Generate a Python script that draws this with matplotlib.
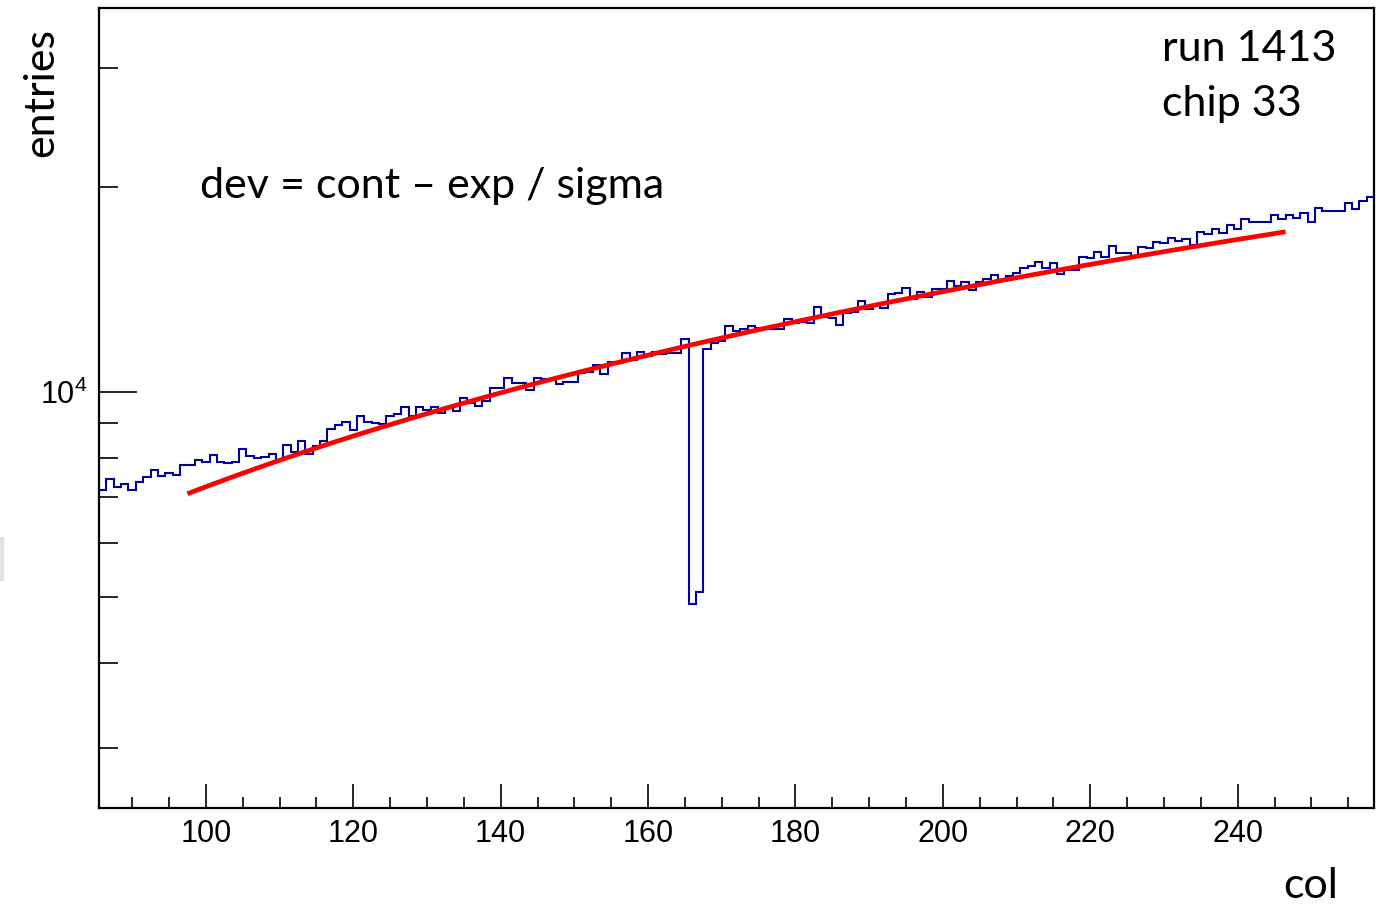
import numpy as np
import matplotlib
matplotlib.use("Agg")
import matplotlib.pyplot as plt

# histogram of hits per column (bin centres 86..258)
first_col = 86
entries = [
    7176, 7441, 7257, 7323, 7176, 7381, 7507, 7679, 7525, 7593,
    7550, 7802, 7802, 7943, 7898, 8079, 7898, 7855, 7898, 8245,
    8052, 7989, 8016, 8106, 7943, 8357, 8170, 8471, 8106, 8329,
    8480, 8813, 8943, 9043, 8793, 9219, 9043, 9013, 8973, 9229,
    9282, 9514, 9210, 9495, 9409, 9514, 9323, 9514, 9377, 9789,
    9644, 9537, 9710, 10126, 10126, 10475, 10299, 10320, 10068, 10475,
    10439, 10415, 10264, 10355, 10355, 10675, 10712, 10957, 10628, 11080,
    11021, 11400, 11144, 11462, 11296, 11462, 11373, 11423, 11423, 11954,
    4873, 5075, 11548, 11805, 11897, 12483, 12307, 12365, 12504, 12407,
    12407, 12365, 12365, 12804, 12619, 12662, 12645, 13349, 12878, 12835,
    12547, 13054, 13125, 13623, 13232, 13426, 13277, 13921, 13969, 14207,
    13688, 14016, 13808, 14159, 14159, 14563, 14318, 14528, 14126, 14528,
    14662, 14862, 14587, 14796, 14963, 15218, 15332, 15515, 15202, 15462,
    14912, 15116, 15116, 15795, 15742, 16065, 15795, 16412, 16011, 15995,
    15769, 16356, 16284, 16602, 16545, 16857, 16692, 16771, 16467, 17192,
    17087, 17349, 17133, 17604, 17337, 17953, 17753, 17753, 17753, 18179,
    17953, 18210, 18008, 18353, 17783, 18648, 18440, 18440, 18440, 18945,
    18572, 19093, 19354,
]

# linear fit (pol1) drawn in red, and its range
fit_p0 = 466.0
fit_p1 = 67.9
fit_range = (97.5, 246.5)

x_ticks = [100, 120, 140, 160, 180, 200, 220, 240]
y_minor = [3000, 4000, 5000, 6000, 7000, 8000, 9000, 20000, 30000]

W, H = 1387, 905
fig = plt.figure(figsize=(W / 100, H / 100), dpi=100)
ax = fig.add_axes([99 / W, 1 - 808 / H, (1374 - 99) / W, (808 - 8) / H])

tick_font = ['Liberation Sans', 'DejaVu Sans']
text_font = ['Lato', 'DejaVu Sans']
plt.rcParams['mathtext.default'] = 'regular'

edges = np.arange(first_col - 0.5, first_col + len(entries), 1.0)
ax.stairs(entries, edges, baseline=None, color='#00009a', linewidth=1.5)

xf = np.linspace(fit_range[0], fit_range[1], 300)
ax.plot(xf, fit_p0 + fit_p1 * xf, color='#ff0000', linewidth=3.4,
        solid_capstyle='butt')

ax.set_yscale('log')
ax.set_xlim(edges[0], edges[-1])
ax.set_ylim(2445, 36700)

# ROOT-like ticks: inside, only bottom / left
ax.set_xticks(x_ticks)
ax.set_xticklabels([str(t) for t in x_ticks], family=tick_font, fontsize=22)
ax.set_xticks(np.arange(90, 259, 5), minor=True)
ax.set_yticks([10000])
ax.set_yticklabels([r'$10^{4}$'], family=tick_font, fontsize=22)
ax.set_yticks(y_minor, minor=True)
ax.set_yticklabels([], minor=True)

ax.tick_params(axis='x', which='major', direction='in', length=17, width=1.2, pad=8)
ax.tick_params(axis='x', which='minor', direction='in', length=8, width=1.2)
ax.tick_params(axis='y', which='major', direction='in', length=27, width=1.2, pad=8)
ax.tick_params(axis='y', which='minor', direction='in', length=14, width=1.2)
for s in ax.spines.values():
    s.set_linewidth(1.6)

# annotations (added on top of the canvas)
def put(x, y, s, **kw):
    kw.setdefault('va', 'baseline')
    fig.text(x / W, 1 - y / H, s, family=text_font, **kw)

put(1162, 61, 'run 1413', fontsize=31)
put(1162, 116, 'chip 33', fontsize=31)
put(200, 198, 'dev = cont \u2013 exp / sigma', fontsize=31)
put(1283, 898, 'col', fontsize=31)
put(22, 28, 'entries', fontsize=31, rotation=90, ha='left', va='top')

# small grey sliver at the left edge of the slide
fig.patches.append(plt.Rectangle((0, 1 - 580 / H), 3 / W, 43 / H,
                                 transform=fig.transFigure, color='#e2e2e2'))

fig.savefig('out.png', dpi=100)
